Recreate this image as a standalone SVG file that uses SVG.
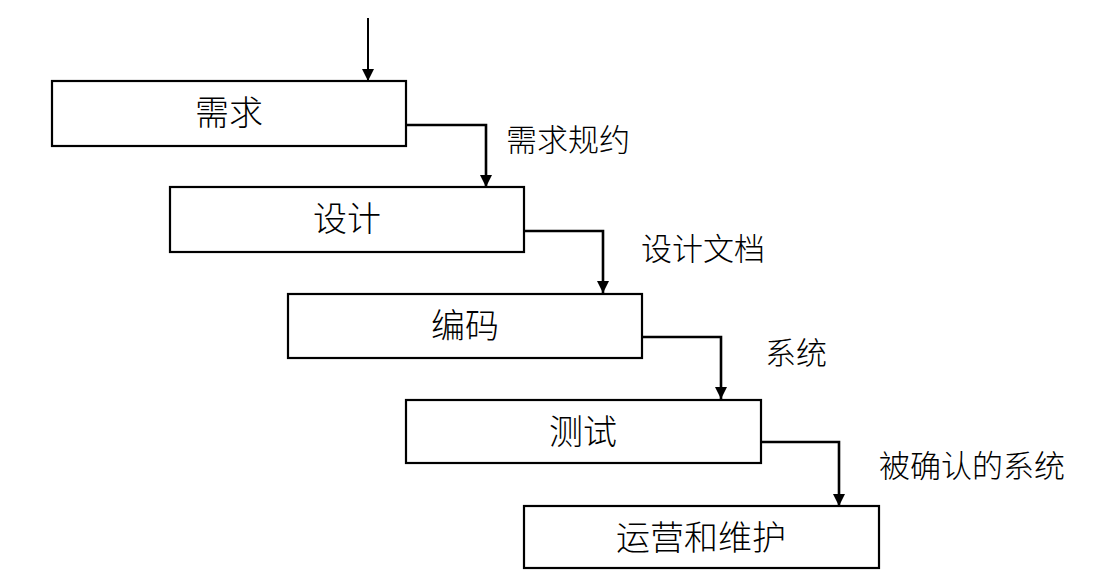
<svg xmlns="http://www.w3.org/2000/svg" width="1105" height="580" viewBox="0 0 1105 580">
<style>
.box{fill:#fff;stroke:#000;stroke-width:2.2}
.conn{fill:none;stroke:#000;stroke-width:2.6;marker-end:url(#ah)}
.nt{font-family:"Noto Sans CJK SC","Noto Sans CJK JP",sans-serif;font-weight:300;font-size:34px;fill:#000;text-anchor:middle}
.lb{font-family:"Noto Sans CJK SC","Noto Sans CJK JP",sans-serif;font-weight:300;font-size:31px;fill:#000}
</style>
<defs>
<marker id="ah" markerUnits="userSpaceOnUse" markerWidth="12" markerHeight="12" viewBox="0 0 12 12" refX="12" refY="6" orient="auto">
<path d="M0,0 L12,6 L0,12 Z" fill="#000"/>
</marker>
</defs>
<rect width="1105" height="580" fill="#fff"/>
<g id="connectors">
<path class="conn" style="stroke-width:2" d="M368,18 V81"/>
<path class="conn" d="M406,125 H486 V187"/>
<path class="conn" d="M524,231 H603 V293"/>
<path class="conn" d="M642,337 H721 V399"/>
<path class="conn" d="M761,442 H839 V506"/>
</g>
<g id="n1"><rect class="box" x="52" y="81" width="354" height="65"/><text class="nt" x="229" y="125">需求</text></g>
<g id="n2"><rect class="box" x="170" y="187" width="354" height="65"/><text class="nt" x="347" y="231">设计</text></g>
<g id="n3"><rect class="box" x="288" y="294" width="354" height="64"/><text class="nt" x="465" y="338">编码</text></g>
<g id="n4"><rect class="box" x="406" y="400" width="355" height="63"/><text class="nt" x="583" y="444">测试</text></g>
<g id="n5"><rect class="box" x="524" y="506" width="355" height="62"/><text class="nt" x="701" y="550">运营和维护</text></g>
<g id="labels">
<text class="lb" x="506" y="151">需求规约</text>
<text class="lb" x="641" y="260">设计文档</text>
<text class="lb" x="765" y="364">系统</text>
<text class="lb" x="879" y="477">被确认的系统</text>
</g>
</svg>
